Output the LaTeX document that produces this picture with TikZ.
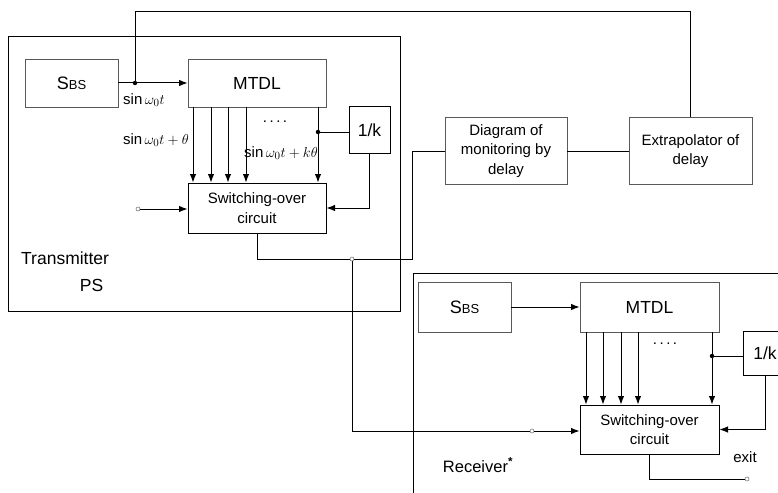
\documentclass[tikz,border=0pt]{standalone}
\usepackage{fontspec}
\setmainfont{Liberation Sans}
\usetikzlibrary{arrows.meta}
\begin{document}
\begin{tikzpicture}[x=1pt,y=-1pt,
 lightbox/.style={draw=black!65, line width=0.8pt, inner sep=0pt, align=center},
 darkbox/.style={draw=black, line width=1pt, inner sep=0pt, align=center},
 frame/.style={draw=black, line width=1pt, inner sep=0pt},
 wire/.style={line width=1pt},
 arr/.style={wire,-{Latex[length=8.5pt,width=6.5pt]}},
 boxtxt/.style={font=\fontsize{15}{19.5}\selectfont},
 bigtxt/.style={font=\fontsize{17.5}{20}\selectfont},
 mathlab/.style={font=\fontsize{15}{16}\selectfont, inner sep=0pt},
 jdot/.style={circle,fill=black,inner sep=0pt,minimum size=4.5pt},
 odot/.style={circle,draw=black!60,fill=white,line width=0.5pt,inner sep=0pt,minimum size=4pt},
 plain/.style={inner sep=0pt},
 ]
\useasboundingbox (0,0) rectangle (778,492);
\fill[white] (0,0) rectangle (778,492);

% frames
\node[frame, minimum width=392pt, minimum height=274pt] (tx) at (204,174) {};
\node[frame, minimum width=387pt, minimum height=247pt] (rx) at (606.5,396.5) {};

% transmitter blocks
\node[lightbox, minimum width=93pt, minimum height=48pt] (tsbs) at (71.5,83)
  {{\fontsize{18}{20}\selectfont S}{\fontsize{13}{15}\selectfont BS}};
\node[lightbox, bigtxt, minimum width=138pt, minimum height=48pt] (tmtdl) at (257,83) {MTDL};
\node[darkbox, bigtxt, minimum width=41pt, minimum height=46pt] (tk) at (369.5,130) {1/k};
\node[darkbox, boxtxt, minimum width=138pt, minimum height=50pt] (tsw) at (257,208) {Switching-over\\circuit};

% middle blocks
\node[lightbox, boxtxt, minimum width=122pt, minimum height=67pt] (diag) at (506,151) {Diagram of\\monitoring by\\delay};
\node[lightbox, boxtxt, minimum width=123pt, minimum height=67pt] (ext) at (690.5,151) {Extrapolator of\\delay};

% receiver blocks
\node[lightbox, minimum width=93pt, minimum height=50pt] (rsbs) at (464.5,307)
  {{\fontsize{18}{20}\selectfont S}{\fontsize{13}{15}\selectfont BS}};
\node[lightbox, bigtxt, minimum width=139pt, minimum height=50pt] (rmtdl) at (649.5,307) {MTDL};
\node[darkbox, bigtxt, minimum width=44pt, minimum height=44pt] (rk) at (765,353) {1/k};
\node[darkbox, boxtxt, minimum width=139pt, minimum height=49pt] (rsw) at (649.5,429.5) {Switching-over\\circuit};

% labels
\node[plain, font=\fontsize{17.5}{20}\selectfont, anchor=west] (ttl) at (21,258) {Transmitter};
\node[plain, bigtxt] (tps) at (91.5,285) {PS};
\node[plain, font=\fontsize{16.5}{20}\selectfont] (rtl) at (478,465) {Receiver\textsuperscript{\textbf{*}}};
\node[plain, boxtxt] (exit) at (745,457) {exit};
\node[mathlab, anchor=west] (l0) at (123,100) {$\sin\omega_0 t$};
\node[mathlab, anchor=east] (l1) at (189,140) {$\sin\omega_0 t+\theta$};
\node[mathlab, anchor=west] (l2) at (244,153) {$\sin\omega_0 t+k\theta$};
\node[plain, boxtxt] (td) at (275,122) {.\,.\,.\,.};
\node[plain, boxtxt] (rd) at (665,344) {.\,.\,.\,.};

% coordinates
\coordinate (J1) at (135,83);
\coordinate (topy) at (0,12);
\coordinate (J2) at (318,132);
\coordinate (tin) at (138,209);
\coordinate (J3) at (352,259);
\coordinate (bend) at (412,259);
\coordinate (rin) at (532,431);
\coordinate (J4) at (712,356);
\coordinate (rout) at (747,479);

% transmitter wiring
\draw[arr] (tsbs.east) -- (tmtdl.west);
\draw[wire] (J1) -- (J1 |- topy) -| (ext.north);
\foreach \x in {193,211,228,246,318}
  \draw[arr] (tmtdl.south -| \x,0) -- (tsw.north -| \x,0);
\draw[wire] (J2) -- (J2 -| tk.west);
\draw[arr] (tk.south) |- (tsw.east);
\draw[arr] (tin) -- (tin -| tsw.west);
\draw[wire] (tsw.south) |- (J3);
\draw[wire] (J3) -- (bend) |- (diag.west);
\draw[wire] (diag.east) -- (ext.west);
\draw[wire] (J3) |- (rin);
\draw[arr] (rin) -- (rin -| rsw.west);

% receiver wiring
\draw[arr] (rsbs.east) -- (rmtdl.west);
\foreach \x in {586,603,621,638,712}
  \draw[arr] (rmtdl.south -| \x,0) -- (rsw.north -| \x,0);
\draw[wire] (J4) -- (J4 -| rk.west);
\draw[arr] (rk.south) |- (rsw.east);
\draw[wire] (rsw.south) |- (rout);

% dots
\node[jdot] at (J1) {};
\node[jdot] at (J2) {};
\node[jdot] at (J4) {};
\node[odot] at (tin) {};
\node[odot] at (J3) {};
\node[odot] at (rin) {};
\node[odot] at (rout) {};
\end{tikzpicture}
\end{document}
